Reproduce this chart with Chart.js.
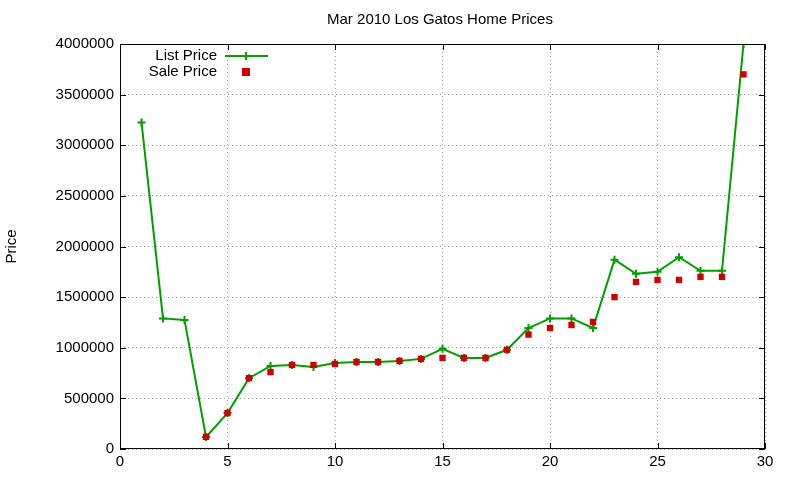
<!DOCTYPE html>
<html><head><meta charset="utf-8">
<script src="https://cdn.jsdelivr.net/npm/chart.js@4"></script>
<style>html,body{margin:0;padding:0;background:#fff}#w{width:800px;height:480px}</style>
</head><body><div id="w"><canvas id="c"></canvas></div>
<script>
const houses = [1,2,3,4,5,6,7,8,9,10,11,12,13,14,15,16,17,18,19,20,21,22,23,24,25,26,27,28,29];
const listPrice = [3225000,1290000,1275000,119000,355000,700000,820000,830000,810000,850000,860000,860000,870000,890000,990000,900000,900000,980000,1195000,1290000,1290000,1195000,1870000,1730000,1750000,1895000,1760000,1760000,4000000];
const salePrice = [null,null,null,120000,355000,700000,760000,830000,830000,840000,860000,860000,870000,890000,900000,900000,900000,980000,1130000,1195000,1225000,1255000,1500000,1650000,1670000,1670000,1700000,1700000,3700000];
const titleText = 'Mar 2010 Los Gatos Home Prices';
const FONT = 'Liberation Sans, Arial, sans-serif';
const GREEN = '#00a000', RED = '#d00000';

const deco = {
  id:'deco',
  afterDraw(ch){
    const c = ch.ctx, a = ch.chartArea;
    c.save();
    c.strokeStyle='#000'; c.lineWidth=1;
    c.strokeRect(a.left+0.5,a.top+0.5,a.right-a.left-1,a.bottom-a.top-1);
    const xs = ch.scales.x, ys = ch.scales.y;
    c.beginPath();
    xs.ticks.forEach(t=>{const p=Math.round(xs.getPixelForValue(t.value))+0.5;c.moveTo(p,a.bottom);c.lineTo(p,a.bottom-6);c.moveTo(p,a.top);c.lineTo(p,a.top+6);});
    ys.ticks.forEach(t=>{const p=Math.round(ys.getPixelForValue(t.value))+0.5;c.moveTo(a.left,p);c.lineTo(a.left+6,p);c.moveTo(a.right,p);c.lineTo(a.right-6,p);});
    c.stroke();
    c.fillStyle='#000'; c.font='15px '+FONT; c.textAlign='center'; c.textBaseline='middle';
    c.fillText(titleText,440,20);
    c.save(); c.translate(12,(a.top+a.bottom)/2); c.rotate(-Math.PI/2); c.fillText('Price',0,0); c.restore();
    c.textAlign='right';
    c.fillText('List Price',217,56);
    c.fillText('Sale Price',217,72);
    c.strokeStyle=GREEN; c.lineWidth=2;
    c.beginPath(); c.moveTo(225,56); c.lineTo(268,56);
    c.moveTo(246,52); c.lineTo(246,60); c.stroke();
    c.fillStyle=RED; c.fillRect(242,68,8,8);
    c.restore();
  }
};

new Chart(document.getElementById('c'),{
  type:'line',
  data:{datasets:[
    {label:'List Price',order:2,data:houses.map((x,i)=>({x,y:listPrice[i]})),borderColor:GREEN,backgroundColor:GREEN,borderWidth:2,pointStyle:'cross',pointRadius:4,pointBorderWidth:2,tension:0},
    {label:'Sale Price',order:1,data:houses.map((x,i)=>({x,y:salePrice[i]})).filter(p=>p.y!==null),showLine:false,borderColor:RED,backgroundColor:RED,pointStyle:'rect',pointRadius:4.5,pointBorderWidth:0}
  ]},
  options:{
    responsive:true,maintainAspectRatio:false,animation:false,
    layout:{padding:{top:44,right:35,left:0,bottom:0}},
    plugins:{legend:{display:false},title:{display:false},tooltip:{enabled:false}},
    scales:{
      x:{type:'linear',min:0,max:30,
        ticks:{stepSize:5,color:'#000',font:{family:FONT,size:15},padding:4},
        grid:{color:'#aaa',drawTicks:false},
        border:{display:false,dash:[1,3]},
        afterFit(s){s.height=31;}},
      y:{min:0,max:4000000,
        ticks:{stepSize:500000,color:'#000',font:{family:FONT,size:15},padding:6,callback:v=>String(v)},
        grid:{color:'#aaa',drawTicks:false},
        border:{display:false,dash:[1,3]},
        afterFit(s){s.width=120;}}
    }
  },
  plugins:[deco]
});
</script></body></html>
